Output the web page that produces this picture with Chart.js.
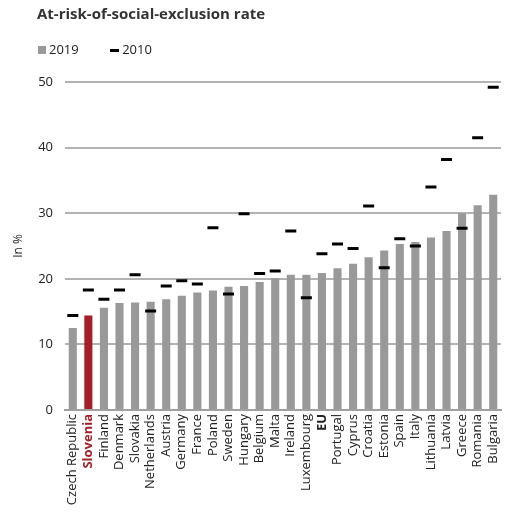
<!DOCTYPE html>
<html>
<head>
<meta charset="utf-8">
<script src="https://cdn.jsdelivr.net/npm/chart.js@4"></script>
<style>
  body { margin: 0; background: #fff; font-family: "Open Sans", sans-serif; }
  #wrap { position: relative; width: 513px; height: 513px; }
  #title { position: absolute; left: 37px; top: 3px; font-weight: bold; font-size: 15px; color: #333; }
  #legend { position: absolute; left: 38px; top: 40px; font-size: 13px; color: #222; }
  #legend span.item { margin-right: 28px; }
  .sw-bar { display: inline-block; width: 8px; height: 8px; background: #999; margin-right: 3px; }
  .sw-dash { display: inline-block; width: 9px; height: 3px; background: #000; margin-right: 3px; vertical-align: middle; }
  canvas { position: absolute; left: 0; top: 0; }
</style>
</head>
<body>
<div id="wrap">
  <canvas id="chart" width="513" height="513"></canvas>
  <div id="title">At-risk-of-social-exclusion rate</div>
  <div id="legend">
    <span class="item"><span class="sw-bar"></span>2019</span>
    <span class="item"><span class="sw-dash"></span>2010</span>
  </div>
</div>
<script>
/* data (%) */
const countries = ["Czech Republic", "Slovenia", "Finland", "Denmark", "Slovakia", "Netherlands",
  "Austria", "Germany", "France", "Poland", "Sweden", "Hungary", "Belgium", "Malta", "Ireland",
  "Luxembourg", "EU", "Portugal", "Cyprus", "Croatia", "Estonia", "Spain", "Italy", "Lithuania",
  "Latvia", "Greece", "Romania", "Bulgaria"];
const rate2019 = [12.5, 14.4, 15.6, 16.3, 16.4, 16.5, 16.9, 17.4, 17.9, 18.2, 18.8, 18.9, 19.5, 20.1,
  20.6, 20.6, 20.9, 21.6, 22.3, 23.3, 24.3, 25.3, 25.6, 26.3, 27.3, 30.0, 31.2, 32.8];
const rate2010 = [14.4, 18.3, 16.9, 18.3, 20.6, 15.1, 18.9, 19.7, 19.2, 27.8, 17.7, 29.9, 20.8, 21.2,
  27.3, 17.1, 23.8, 25.3, 24.6, 31.1, 21.7, 26.1, 25.0, 34.0, 38.2, 27.7, 41.5, 49.2];
const yTicks = [0, 10, 20, 30, 40, 50];
const highlight = "Slovenia";
const boldLabels = ["Slovenia", "EU"];

const GREY = "#999999";
const RED = "#a51f28";

const ctx = document.getElementById("chart").getContext("2d");

new Chart(ctx, {
  type: "bar",
  data: {
    labels: countries,
    datasets: [
      {
        label: "2010",
        type: "line",
        data: rate2010,
        showLine: false,
        pointStyle: "line",
        pointRadius: 5.5,
        pointBorderWidth: 3,
        borderColor: "#000",
        backgroundColor: "#000",
        order: 0
      },
      {
        label: "2019",
        data: rate2019,
        backgroundColor: countries.map(c => c === highlight ? RED : GREY),
        barPercentage: 0.52,
        categoryPercentage: 1,
        order: 1
      }
    ]
  },
  options: {
    responsive: false,
    animation: false,
    layout: { padding: { top: 82, right: 10, left: 0, bottom: 0 } },
    plugins: {
      legend: { display: false },
      tooltip: { enabled: false }
    },
    scales: {
      x: {
        grid: { display: false, drawTicks: false },
        border: { display: true, color: "#a0a0a0", width: 2 },
        ticks: {
          autoSkip: false,
          minRotation: 90,
          maxRotation: 90,
          padding: 4,
          color: c => countries[c.index] === highlight ? RED : "#222",
          font: c => ({
            family: "Open Sans",
            size: 13,
            weight: boldLabels.includes(countries[c.index]) ? "bold" : "normal"
          })
        },
        afterFit: s => { s.height = 103; }
      },
      y: {
        min: 0,
        max: 50,
        afterBuildTicks: s => { s.ticks = yTicks.map(v => ({ value: v })); },
        grid: { color: "#b3b3b3", lineWidth: 2, drawTicks: false },
        border: { display: false },
        ticks: { padding: 12, color: "#222", font: { family: "Open Sans", size: 13 } },
        title: {
          display: true, text: "In %", color: "#222",
          font: { family: "Open Sans", size: 12 },
          padding: { top: 11, bottom: 0 }
        },
        afterFit: s => { s.width = 65; }
      }
    }
  }
});
</script>
</body>
</html>
